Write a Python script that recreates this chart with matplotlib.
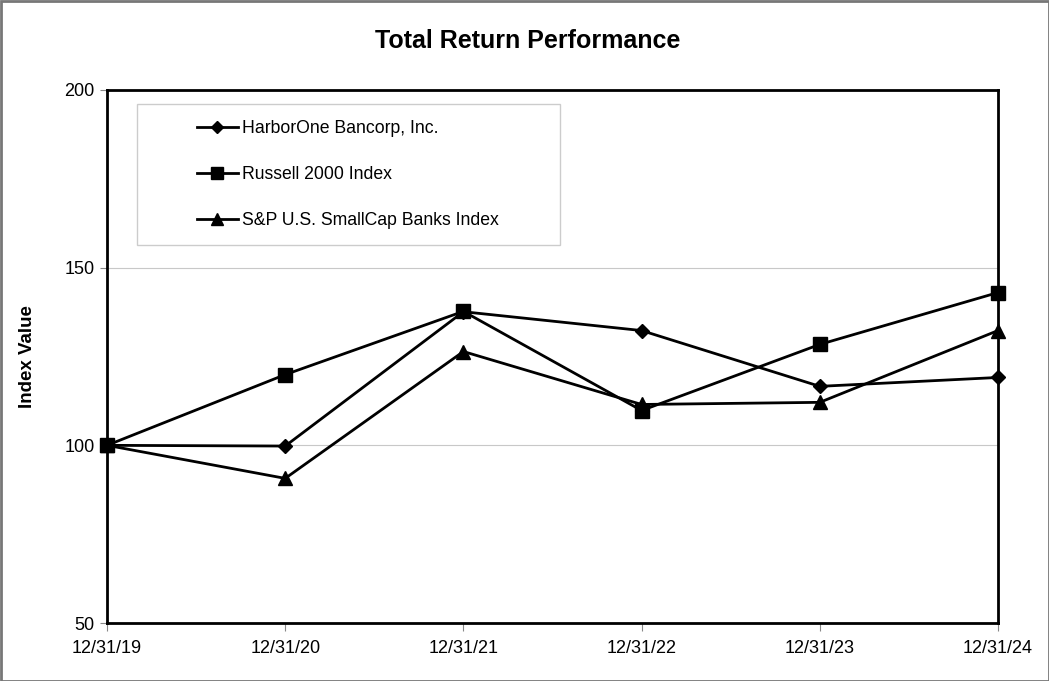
import matplotlib
matplotlib.use("Agg")
import matplotlib.pyplot as plt
from matplotlib.patches import Rectangle

plt.rcParams['font.family'] = ['Liberation Sans', 'DejaVu Sans']

dates = ["12/31/19", "12/31/20", "12/31/21", "12/31/22", "12/31/23", "12/31/24"]
harborone = [100.0, 99.8, 137.6, 132.3, 116.6, 119.1]
russell = [100.0, 119.9, 137.7, 109.8, 128.4, 143.0]
sp_banks = [100.0, 90.7, 126.4, 111.5, 112.1, 132.3]

series_names = ["HarborOne Bancorp, Inc.", "Russell 2000 Index", "S&P U.S. SmallCap Banks Index"]

W, H = 1049, 681
fig = plt.figure(figsize=(W / 100, H / 100), dpi=100)
ax = fig.add_axes([107 / W, (H - 623) / H, (998 - 107) / W, (623 - 90) / H])

x = list(range(len(dates)))
l1, = ax.plot(x, harborone, color='black', lw=2, marker='D', ms=7, label=series_names[0], clip_on=False, zorder=3)
l2, = ax.plot(x, russell, color='black', lw=2, marker='s', ms=10, label=series_names[1], clip_on=False, zorder=3)
l3, = ax.plot(x, sp_banks, color='black', lw=2, marker='^', ms=9.5, label=series_names[2], clip_on=False, zorder=3)

ax.set_xlim(0, len(dates) - 1)
ax.set_ylim(50, 200)
ax.set_yticks([50, 100, 150, 200])
ax.set_xticks(x)
ax.set_xticklabels(dates, fontsize=13)
ax.tick_params(axis='y', labelsize=13, length=5, color='#888888', direction='out', pad=4)
ax.tick_params(axis='x', length=6, color='#888888', direction='out', pad=6)
ax.yaxis.grid(True, color='#c8c8c8', lw=0.8)
ax.set_axisbelow(True)
for s in ax.spines.values():
    s.set_linewidth(2)
    s.set_color('black')

fig.text(528 / W, 1 - 41 / H, "Total Return Performance", fontsize=18, fontweight='bold',
         ha='center', va='center')
ax.set_ylabel("Index Value", fontsize=13.5, fontweight='bold', labelpad=20)

# legend frame
ax.add_patch(Rectangle(((137 - 107) / (998 - 107), 1 - (245 - 90) / (623 - 90)),
                       (560 - 137) / (998 - 107), (245 - 104) / (623 - 90),
                       transform=ax.transAxes, fill=True, facecolor='white',
                       edgecolor='#cccccc', lw=1, zorder=4))

leg = ax.legend(loc='upper left', bbox_to_anchor=((197 - 107) / (998 - 107), 1 - (120 - 90) / (623 - 90)),
                frameon=False, fontsize=12.7, labelspacing=1.64, borderpad=0,
                handlelength=2.3, handletextpad=0.25, borderaxespad=0)
leg.set_zorder(5)
sizes = [6, 8, 8]
for h, ms in zip(leg.legend_handles, sizes):
    h.set_linewidth(2)
    h.set_markersize(ms)

fig.patches.append(Rectangle((0.5 / W, 0.5 / H), 1 - 1 / W, 1 - 1 / H, transform=fig.transFigure,
                             fill=False, edgecolor='#777777', lw=2))

fig.savefig("out.png", dpi=100)
